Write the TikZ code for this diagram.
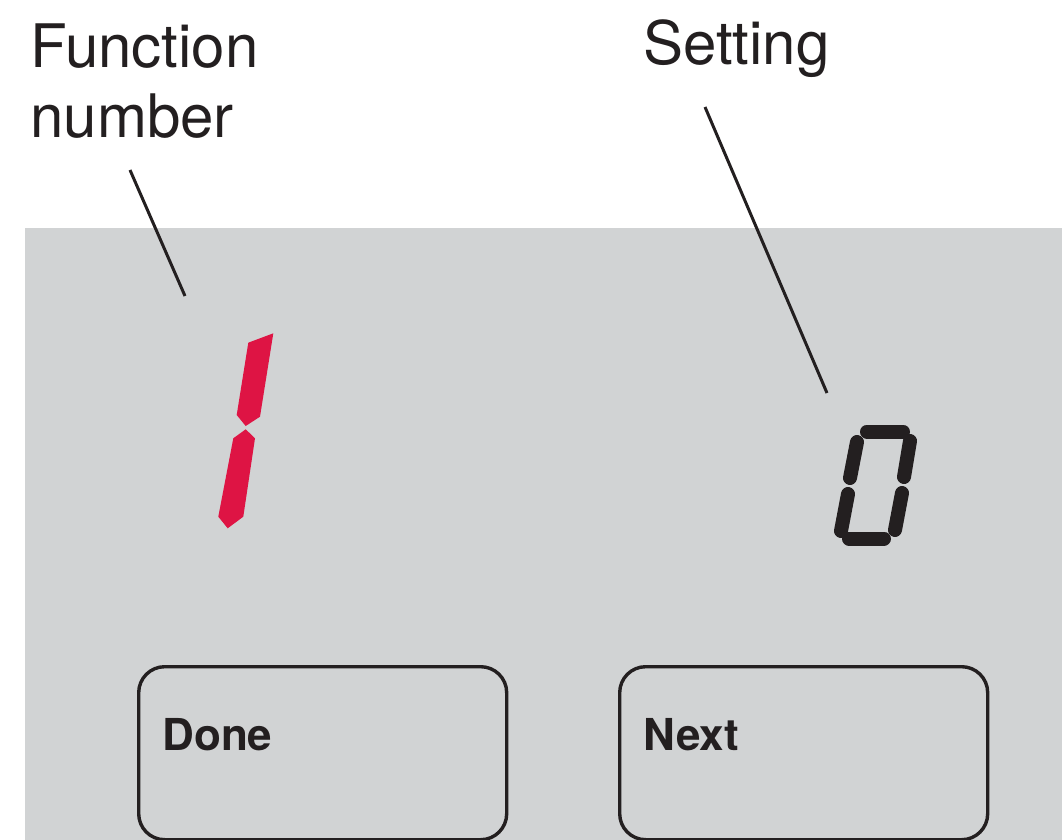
\documentclass[tikz,border=0pt]{standalone}
\usepackage{fontspec}
\setmainfont{TeX Gyre Heros}
\usetikzlibrary{positioning}
\definecolor{panelgray}{RGB}{209,211,212}
\definecolor{segred}{RGB}{222,20,68}
\definecolor{inkblack}{RGB}{35,31,32}

\begin{document}
\begin{tikzpicture}[x=0.5pt, y=-0.5pt,
    lbl/.style={inner sep=0, anchor=base west, align=left, font=\fontsize{30}{35}\selectfont, text=inkblack},
    leader/.style={draw=inkblack, line width=1.5pt},
    btn/.style={draw=inkblack, line width=1.7pt, rounded corners=13pt, fill=panelgray, inner sep=0, anchor=north west, minimum width=184pt, minimum height=86.5pt},
    btnlbl/.style={inner sep=0, anchor=base west, font=\fontsize{22}{26}\selectfont\bfseries, text=inkblack},
    blkseg/.style={draw=inkblack, line width=7pt, line cap=round}]
    \useasboundingbox (0,0) rectangle (1062,840);

    % display panel
    \fill[panelgray] (25,228) rectangle (1062,840);

    % labels
    \node[lbl] (fnlabel) at (30,138) {Function\\number};
    \node[lbl] (stlabel) at (643,65) {Setting};

    % leaders
    \coordinate (fnA) at (130,170);
    \coordinate (fnB) at (185,296);
    \coordinate (stA) at (705,107);
    \coordinate (stB) at (827,393);
    \draw[leader] (fnA) -- (fnB);
    \draw[leader] (stA) -- (stB);

    % function digit 1
    \fill[segred] (273.3,333.3) -- (248.3,342.7) -- (236.7,415) -- (245.7,426) -- (260,416.7) -- cycle;
    \fill[segred] (245.7,429.3) -- (255,438.3) -- (243.3,516.7) -- (227.7,528.3) -- (218.3,516.7) -- (233.3,438.3) -- cycle;

    % setting digit 0
    \draw[blkseg] (867,431.5) -- (903,431.5);
    \draw[blkseg] (857,442) -- (850,478);
    \draw[blkseg] (848,494) -- (841,531);
    \draw[blkseg] (849,538.5) -- (884,538.5);
    \draw[blkseg] (910,441) -- (904,477);
    \draw[blkseg] (902,493) -- (895,530);

    % buttons
    \node[btn] (donebtn) at (137,665) {};
    \node[btn] (nextbtn) at (618,665) {};
    \node[btnlbl] (donetxt) at (162,750) {Done};
    \node[btnlbl] (nexttxt) at (643,750) {Next};
\end{tikzpicture}
\end{document}
